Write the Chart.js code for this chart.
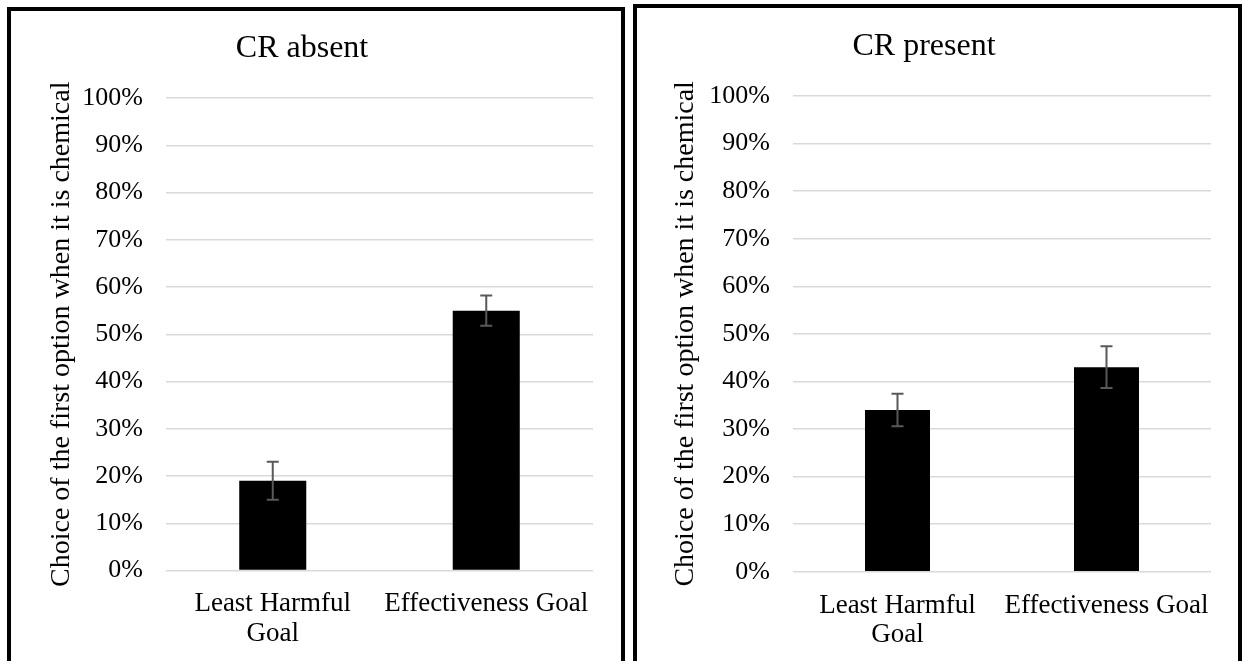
<!DOCTYPE html>
<html>
<head>
<meta charset="utf-8">
<script src="https://cdn.jsdelivr.net/npm/chart.js@4"></script>
<style>
  html, body { margin: 0; padding: 0; background: #fff; overflow: hidden; }
  body { width: 1243px; height: 661px; position: relative; }
  .panel { position: absolute; border: 4px solid #000; border-bottom: none; background: #fff; }
  #left { left: 7px; top: 7px; width: 610px; height: 654px; }
  #right { left: 633px; top: 4px; width: 601px; height: 657px; }
  canvas { display: block; }
</style>
</head>
<body>
<div class="panel" id="left"><canvas id="chartLeft" width="610" height="654"></canvas></div>
<div class="panel" id="right"><canvas id="chartRight" width="601" height="657"></canvas></div>
<script>
const categories = [["Least Harmful", "Goal"], "Effectiveness Goal"];
const yTicks = [0, 10, 20, 30, 40, 50, 60, 70, 80, 90, 100];

const absentValues = [19, 55];
const absentErrors = [4, 3.2];

const presentValues = [34, 43];
const presentErrors = [3.4, 4.4];

const FONT = "'Liberation Serif', 'Times New Roman', serif";

// draws the error bars through the y scale
const errorBars = {
  id: "errorBars",
  afterDatasetsDraw(chart) {
    const ctx = chart.ctx;
    const y = chart.scales.y;
    chart.data.datasets.forEach((ds, i) => {
      chart.getDatasetMeta(i).data.forEach((bar, j) => {
        const v = ds.data[j], e = ds.errors[j];
        const top = y.getPixelForValue(v + e);
        const bot = y.getPixelForValue(v - e);
        ctx.save();
        ctx.strokeStyle = "#595959";
        ctx.lineWidth = 2;
        ctx.beginPath();
        ctx.moveTo(bar.x, top); ctx.lineTo(bar.x, bot);
        ctx.moveTo(bar.x - 6, top); ctx.lineTo(bar.x + 6, top);
        ctx.moveTo(bar.x - 6, bot); ctx.lineTo(bar.x + 6, bot);
        ctx.stroke();
        ctx.restore();
      });
    });
  }
};

function makeChart(id, title, values, errors, o) {
  new Chart(document.getElementById(id), {
    type: "bar",
    data: {
      labels: categories,
      datasets: [{
        data: values,
        errors: errors,
        backgroundColor: "#000",
        borderWidth: 0,
        categoryPercentage: 1,
        barPercentage: o.barPct
      }]
    },
    options: {
      responsive: false,
      animation: false,
      devicePixelRatio: 1,
      layout: { padding: { left: 0, right: o.right, top: 0, bottom: 0 } },
      plugins: {
        legend: { display: false },
        tooltip: { enabled: false },
        title: {
          display: true,
          text: title,
          color: "#000",
          font: { family: FONT, size: 32, weight: "normal" },
          padding: { top: o.titleY, bottom: o.top - o.titleY - 38.4 }
        }
      },
      scales: {
        x: {
          grid: { display: false },
          border: { display: false },
          ticks: {
            color: "#000",
            font: { family: FONT, size: 27, lineHeight: 1.1 },
            padding: 11,
            maxRotation: 0,
            autoSkip: false
          },
          afterFit(s) { s.height = o.h - o.bottom; }
        },
        y: {
          min: 0,
          max: 100,
          afterBuildTicks(s) { s.ticks = yTicks.map(v => ({ value: v })); },
          grid: { color: "#d9d9d9", lineWidth: 1.5, drawTicks: false },
          border: { display: false },
          ticks: {
            color: "#000",
            font: { family: FONT, size: 26 },
            padding: 23,
            callback: v => v + "%"
          },
          title: {
            display: true,
            text: "Choice of the first option when it is chemical",
            color: "#000",
            font: { family: FONT, size: 28 },
            padding: { top: o.titleX - 16.8, bottom: 0 }
          },
          afterFit(s) { s.width = o.left; }
        }
      }
    },
    plugins: [errorBars]
  });
}

makeChart("chartLeft", "CR absent", absentValues, absentErrors,
  { left: 155, right: 28, top: 87, bottom: 559.5, h: 654, titleX: 51, titleY: 18, barPct: 0.314 });
makeChart("chartRight", "CR present", presentValues, presentErrors,
  { left: 156, right: 27, top: 88, bottom: 563.7, h: 657, titleX: 49, titleY: 19, barPct: 0.311 });
</script>
</body>
</html>
